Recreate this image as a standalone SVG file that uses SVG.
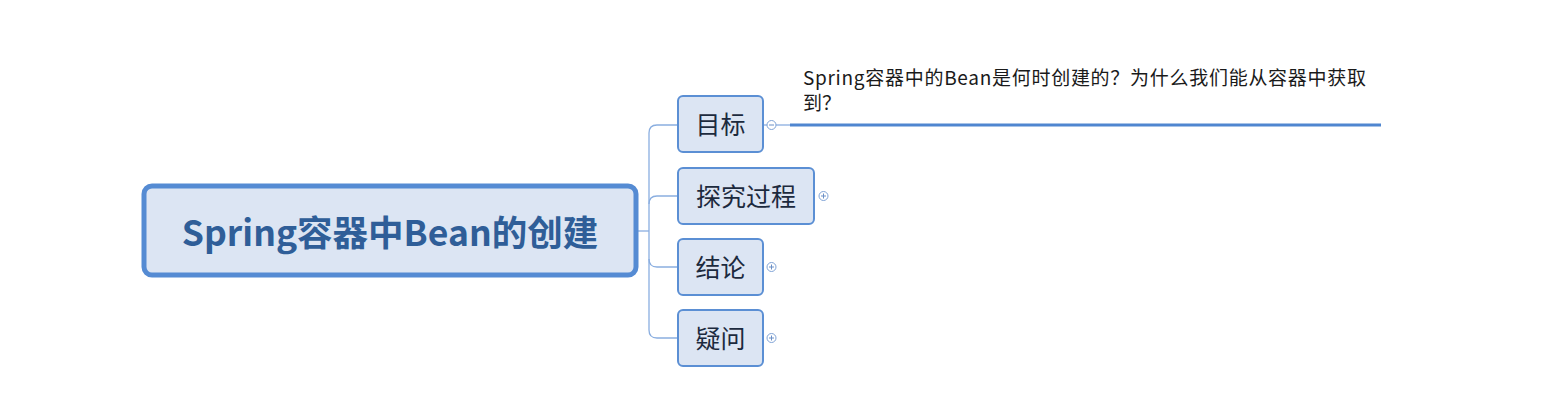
<svg xmlns="http://www.w3.org/2000/svg" width="1565" height="415" viewBox="0 0 1565 415">
<style>
.root rect{fill:#DCE5F3;stroke:#558BD3;stroke-width:5}
.root text{font-family:"Noto Sans CJK SC","Liberation Sans",sans-serif;font-weight:bold;font-size:35.5px;fill:#2F5E98;text-anchor:middle}
.child rect{fill:#DCE5F3;stroke:#5B8FD4;stroke-width:2}
.child text{font-family:"Noto Sans CJK SC","Liberation Sans",sans-serif;font-size:25px;fill:#1C2A3E;text-anchor:middle}
.tog{fill:#fff;stroke:#7FA3D6;stroke-width:1}
.sym{stroke:#6A8FC6;stroke-width:1}
.conn{fill:none;stroke:#8AAEE0;stroke-width:1.3}
.note{font-family:"Noto Sans CJK SC","Liberation Sans",sans-serif;font-size:19px;fill:#1a1a1a}
</style>
<rect width="1565" height="415" fill="#fff"/>
<g id="connectors">
<path class="conn" d="M637,231 H649"/>
<path class="conn" d="M678,125 H657 Q649,125 649,133 V330 Q649,338 657,338 H678"/>
<path class="conn" d="M678,196 H657 Q649,196 649,204"/>
<path class="conn" d="M678,267 H657 Q649,267 649,259"/>
<path class="conn" d="M763,125 H767"/>
<path class="conn" d="M776,125 H790"/>
<path d="M790,125 H1381" stroke="#4F86D0" stroke-width="3" fill="none"/>
</g>
<g id="root" class="root">
<rect x="144" y="186" width="492" height="89" rx="8"/>
<text x="390" y="246">Spring容器中Bean的创建</text>
</g>
<g id="n-mubiao" class="child">
<rect x="678" y="96" width="85" height="56" rx="5"/>
<text x="720.5" y="133.5">目标</text>
<circle class="tog" cx="771.5" cy="125" r="4.5"/>
<path class="sym" d="M769,125 H774"/>
</g>
<g id="n-tanjiu" class="child">
<rect x="678" y="168" width="136" height="56" rx="5"/>
<text x="746" y="205.5">探究过程</text>
<circle class="tog" cx="823.5" cy="196" r="4.5"/>
<path class="sym" d="M821,196 H826 M823.5,193.5 V198.5"/>
</g>
<g id="n-jielun" class="child">
<rect x="678" y="239" width="85" height="56" rx="5"/>
<text x="720.5" y="276.5">结论</text>
<circle class="tog" cx="771.5" cy="267" r="4.5"/>
<path class="sym" d="M769,267 H774 M771.5,264.5 V269.5"/>
</g>
<g id="n-yiwen" class="child">
<rect x="678" y="310" width="85" height="56" rx="5"/>
<text x="720.5" y="347.5">疑问</text>
<circle class="tog" cx="771.5" cy="338" r="4.5"/>
<path class="sym" d="M769,338 H774 M771.5,335.5 V340.5"/>
</g>
<g id="n-note">
<text class="note"><tspan x="803" y="85" textLength="563" lengthAdjust="spacing">Spring容器中的Bean是何时创建的？为什么我们能从容器中获取</tspan><tspan x="803" y="110">到？</tspan></text>
</g>
</svg>
